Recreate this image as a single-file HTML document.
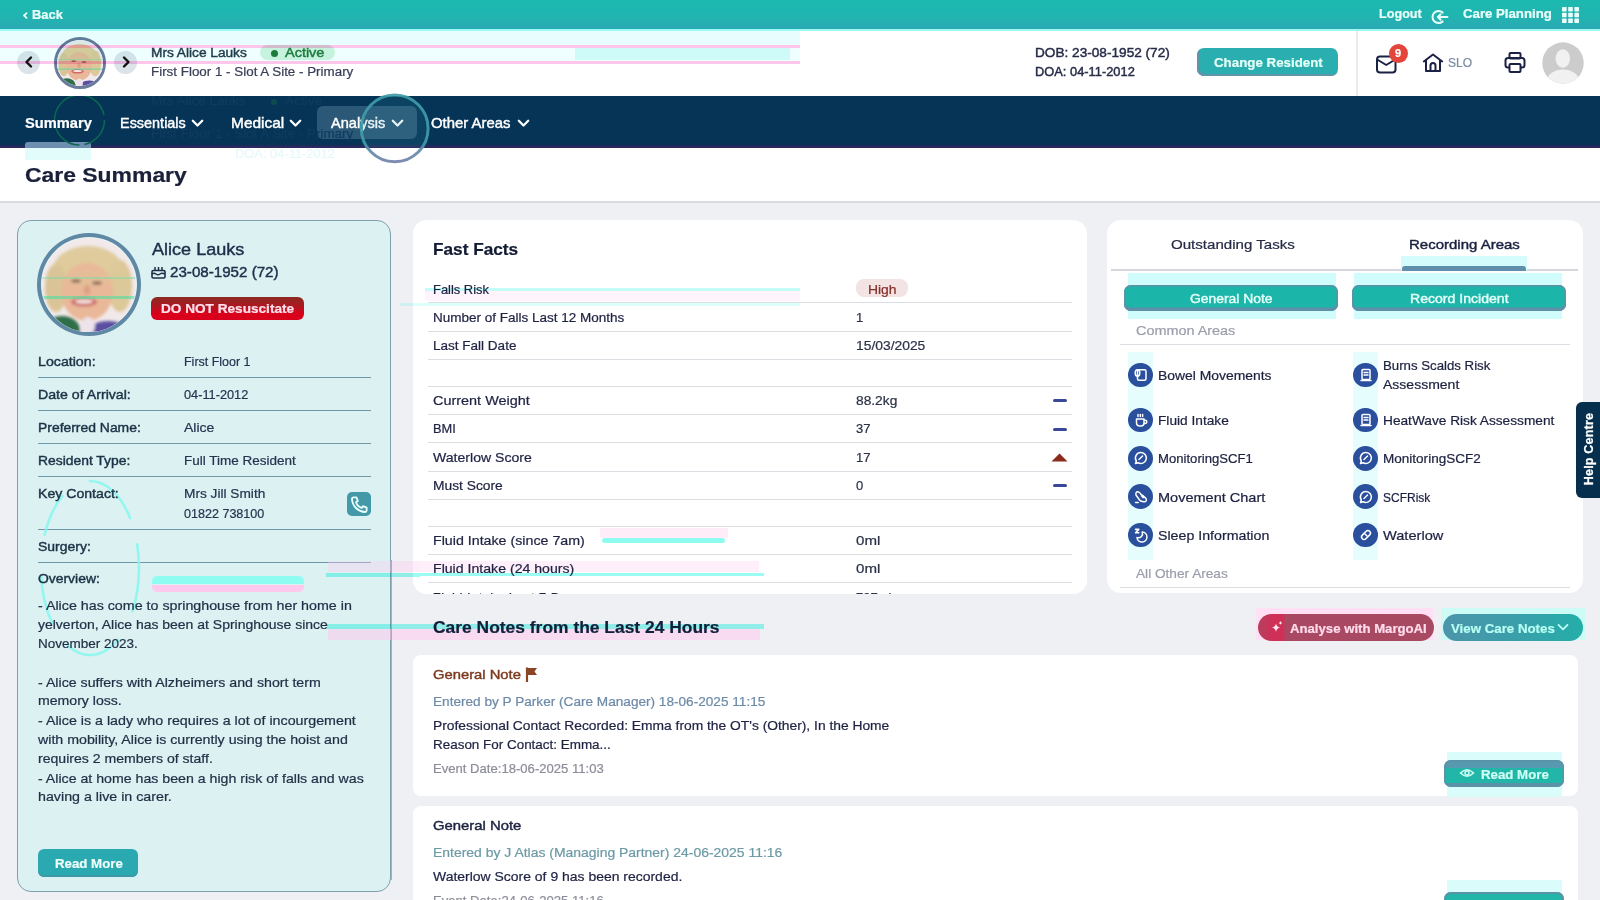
<!DOCTYPE html>
<html><head><meta charset="utf-8">
<style>
*{box-sizing:border-box;margin:0;padding:0}
html,body{width:1600px;height:900px;overflow:hidden;background:#eff0f4;font-family:"Liberation Sans",sans-serif;color:#1d2340;position:relative}
.abs{position:absolute}
.t{position:absolute;white-space:nowrap;z-index:3;-webkit-text-stroke-width:0.22px}
.gh{position:absolute;z-index:2;mix-blend-mode:multiply}
svg{position:absolute;overflow:visible}
</style></head><body>
<div class="abs" style="left:0px;top:0px;width:1600px;height:29px;background:linear-gradient(#1cb9b0,#20b5b0 55%,#2aa9b4)"></div>
<div class="abs" style="left:0px;top:29px;width:1600px;height:2px;background:#9ef8f2"></div>
<svg style="left:21.5px;top:11.5px" width="7" height="7" viewBox="0 0 7 7"><path d="M4.6 1.1 L2 3.5 L4.6 5.9" stroke="#eafffb" stroke-width="1.8" fill="none" stroke-linecap="round" stroke-linejoin="round"/></svg>
<div class="t" id="t0" style="left:32.00px;top:8.74px;font-size:12px;line-height:12px;color:#eafffb;font-weight:bold;transform:scaleX(1.0736);transform-origin:0 0;">Back</div>
<div class="t" id="t1" style="left:1379.30px;top:8.12px;font-size:12.5px;line-height:12.5px;color:#eafffb;font-weight:bold;transform:scaleX(1.0108);transform-origin:0 0;">Logout</div>
<svg style="left:1431px;top:9.6px" width="18" height="14" viewBox="0 0 18 14"><path d="M11.6 2.6 A6 6 0 1 0 11.6 11.4" stroke="#eafffb" stroke-width="2" fill="none" stroke-linecap="round"/><path d="M16.4 7 H6.8 M9.6 4.2 L6.8 7 L9.6 9.8" stroke="#eafffb" stroke-width="2" fill="none" stroke-linecap="round" stroke-linejoin="round"/></svg>
<div class="t" id="t2" style="left:1463.40px;top:8.12px;font-size:12.5px;line-height:12.5px;color:#eafffb;font-weight:bold;transform:scaleX(1.0565);transform-origin:0 0;">Care Planning</div>
<svg style="left:1562px;top:6.8px" width="18" height="17" viewBox="0 0 18 17"><rect x="0.0" y="0.0" width="4.6" height="4.4" rx="0.6" fill="#eafffb"/><rect x="6.2" y="0.0" width="4.6" height="4.4" rx="0.6" fill="#eafffb"/><rect x="12.4" y="0.0" width="4.6" height="4.4" rx="0.6" fill="#eafffb"/><rect x="0.0" y="5.8" width="4.6" height="4.4" rx="0.6" fill="#eafffb"/><rect x="6.2" y="5.8" width="4.6" height="4.4" rx="0.6" fill="#eafffb"/><rect x="12.4" y="5.8" width="4.6" height="4.4" rx="0.6" fill="#eafffb"/><rect x="0.0" y="11.6" width="4.6" height="4.4" rx="0.6" fill="#eafffb"/><rect x="6.2" y="11.6" width="4.6" height="4.4" rx="0.6" fill="#eafffb"/><rect x="12.4" y="11.6" width="4.6" height="4.4" rx="0.6" fill="#eafffb"/></svg>
<div class="abs" style="left:0px;top:31px;width:1600px;height:65px;background:#fff"></div>
<div class="abs" style="left:1356px;top:31px;width:2px;height:65px;background:#e9ebef"></div>
<div class="abs" style="left:17px;top:51px;width:23px;height:23px;background:#dde4e9;border-radius:50%"></div>
<svg style="left:24px;top:56px" width="10" height="12" viewBox="0 0 10 12"><path d="M7 1.5 L2.5 6 L7 10.5" stroke="#111" stroke-width="2.4" fill="none" stroke-linecap="round" stroke-linejoin="round"/></svg>
<div class="abs" style="left:114px;top:51px;width:23px;height:23px;background:#dde4e9;border-radius:50%"></div>
<svg style="left:121px;top:56px" width="10" height="12" viewBox="0 0 10 12"><path d="M3 1.5 L7.5 6 L3 10.5" stroke="#111" stroke-width="2.4" fill="none" stroke-linecap="round" stroke-linejoin="round"/></svg>
<div class="abs" style="left:53.5px;top:37px;width:52.0px;height:52px;border:3px solid #6a7c9c;border-radius:50%;background:#fff"></div>
<svg style="left:56.5px;top:40px" width="46" height="46" viewBox="0 0 94 94"><defs><clipPath id="pca"><circle cx="47" cy="47" r="47"/></clipPath><filter id="pfa" x="-20%" y="-20%" width="140%" height="140%"><feGaussianBlur stdDeviation="1.6"/></filter></defs><g clip-path="url(#pca)"><rect width="94" height="94" fill="#f1e9ea"/><g filter="url(#pfa)"><ellipse cx="46" cy="34" rx="36" ry="26" fill="#dfcb9c"/><ellipse cx="14" cy="50" rx="11" ry="24" fill="#dac497"/><ellipse cx="78" cy="48" rx="12" ry="26" fill="#ddc89a"/><ellipse cx="45" cy="54" rx="26" ry="29" fill="#e9b898"/><ellipse cx="46" cy="40" rx="22" ry="8" fill="#e4bd98"/><ellipse cx="34" cy="43" rx="5" ry="1.8" fill="#8a6a5a"/><ellipse cx="55" cy="45" rx="5" ry="1.8" fill="#8a6a5a"/><ellipse cx="45" cy="52" rx="3.5" ry="5" fill="#dba184"/><ellipse cx="42" cy="64" rx="13" ry="4.5" fill="#cf6a6a"/><ellipse cx="42" cy="63.5" rx="9" ry="2" fill="#f4e6e0"/><ellipse cx="20" cy="92" rx="18" ry="14" fill="#2f6e4a"/><ellipse cx="66" cy="96" rx="22" ry="13" fill="#5a4fa0"/><ellipse cx="46" cy="88" rx="7" ry="9" fill="#ece4ea"/></g><rect x="0" y="39" width="94" height="2" fill="#6fe0a8" opacity="0.45"/><rect x="0" y="58" width="94" height="3" fill="#40e0a0" opacity="0.55"/></g></svg>
<div class="t" id="t3" style="left:151.00px;top:46.72px;font-size:12.5px;line-height:12.5px;color:#1e3a4a;-webkit-text-stroke-width:0.42px;transform:scaleX(1.0945);transform-origin:0 0;">Mrs Alice Lauks</div>
<div class="abs" style="left:259.7px;top:44.6px;width:75.60000000000002px;height:15.799999999999997px;background:#d3f4de;border-radius:8px"></div>
<div class="abs" style="left:270.5px;top:49.5px;width:7.0px;height:7.0px;background:#1d7a3c;border-radius:50%"></div>
<div class="t" id="t4" style="left:285.00px;top:46.72px;font-size:12.5px;line-height:12.5px;color:#1f7a3d;-webkit-text-stroke-width:0.42px;transform:scaleX(1.1572);transform-origin:0 0;">Active</div>
<div class="t" id="t5" style="left:151.00px;top:65.72px;font-size:12.5px;line-height:12.5px;color:#3a3f58;transform:scaleX(1.0707);transform-origin:0 0;">First Floor 1 - Slot A Site - Primary</div>
<div class="t" id="t6" style="left:1035.00px;top:46.62px;font-size:12.5px;line-height:12.5px;color:#262b48;-webkit-text-stroke-width:0.42px;transform:scaleX(1.0899);transform-origin:0 0;">DOB: 23-08-1952 (72)</div>
<div class="t" id="t7" style="left:1035.00px;top:65.62px;font-size:12.5px;line-height:12.5px;color:#262b48;-webkit-text-stroke-width:0.42px;transform:scaleX(1.0284);transform-origin:0 0;">DOA: 04-11-2012</div>
<div class="abs" style="left:1197px;top:48px;width:141px;height:28.299999999999997px;background:#2aaeb0;border-radius:7px;box-shadow:inset 2px -2px 0 #5f94ab"></div>
<div class="t" id="t8" style="left:1213.80px;top:56.07px;font-size:13.5px;line-height:13.5px;color:#e4fff6;font-weight:bold;transform:scaleX(0.9866);transform-origin:0 0;">Change Resident</div>
<svg style="left:1375px;top:55px" width="23" height="19" viewBox="0 0 23 19"><rect x="2" y="1.5" width="18.5" height="16" rx="3" stroke="#1b2145" stroke-width="2" fill="none"/><path d="M3 5 L11.2 10 L19.5 5" stroke="#1b2145" stroke-width="2" fill="none" stroke-linecap="round" stroke-linejoin="round"/></svg>
<div class="abs" style="left:1388.9px;top:43.5px;width:19.0px;height:19.0px;background:#e2453b;border-radius:50%"></div>
<div class="t" id="t9" style="left:1394.90px;top:47.99px;font-size:11px;line-height:11px;color:#fff;font-weight:bold;">9</div>
<svg style="left:1422px;top:53px" width="22" height="20" viewBox="0 0 22 20"><path d="M1.8 8.5 L11 1.5 L20.2 8.5" stroke="#1b2145" stroke-width="2" fill="none" stroke-linecap="round" stroke-linejoin="round"/><path d="M4 7 V18 H18 V7" stroke="#1b2145" stroke-width="2" fill="none" stroke-linejoin="round"/><path d="M8.5 18 V12.5 A2.5 2.5 0 0 1 13.5 12.5 V18" stroke="#1b2145" stroke-width="2" fill="none"/></svg>
<div class="t" id="t10" style="left:1447.50px;top:56.74px;font-size:12px;line-height:12px;color:#7d8ba3;transform:scaleX(1.0035);transform-origin:0 0;">SLO</div>
<svg style="left:1504px;top:52px" width="22" height="21" viewBox="0 0 22 21"><rect x="5.5" y="1" width="11" height="5.5" rx="1" stroke="#1b2145" stroke-width="2" fill="none"/><rect x="1.5" y="6" width="19" height="9.5" rx="2.5" stroke="#1b2145" stroke-width="2" fill="none"/><rect x="5.5" y="12" width="11" height="8" rx="1" stroke="#1b2145" stroke-width="2" fill="#fff"/></svg>
<svg style="left:1541.9px;top:41.6px" width="42" height="42" viewBox="0 0 42 42"><defs><clipPath id="ca"><circle cx="21" cy="21" r="20.7"/></clipPath></defs><circle cx="21" cy="21" r="20.7" fill="#cccccc"/><g clip-path="url(#ca)"><ellipse cx="20.8" cy="16.5" rx="7.2" ry="9.3" fill="#f1f1f1"/><ellipse cx="21" cy="39" rx="16" ry="11.5" fill="#f1f1f1"/></g></svg>
<div class="abs" style="left:0px;top:96px;width:1600px;height:51.599999999999994px;background:linear-gradient(#053457 0%,#053457 93%,#26295e 96%,#2a2a60 100%)"></div>
<div class="t" id="t11" style="left:25.00px;top:115.73px;font-size:14.5px;line-height:14.5px;color:#ffffff;font-weight:bold;transform:scaleX(1.0106);transform-origin:0 0;">Summary</div>
<div class="abs" style="left:25px;top:142.2px;width:66px;height:5.800000000000011px;background:#6f8fb0;border-radius:3px 3px 0 0"></div>
<div class="t" id="t12" style="left:119.50px;top:115.73px;font-size:14.5px;line-height:14.5px;color:#ffffff;-webkit-text-stroke-width:0.42px;transform:scaleX(0.9955);transform-origin:0 0;">Essentials</div>
<svg style="left:191px;top:118.5px" width="13" height="9" viewBox="0 0 13 9"><path d="M1.8 1.8 L6.5 6.5 L11.2 1.8" stroke="#fff" stroke-width="2.3" fill="none" stroke-linecap="round" stroke-linejoin="round"/></svg>
<div class="t" id="t13" style="left:231.30px;top:115.73px;font-size:14.5px;line-height:14.5px;color:#ffffff;-webkit-text-stroke-width:0.42px;transform:scaleX(1.0667);transform-origin:0 0;">Medical</div>
<svg style="left:289px;top:118.5px" width="13" height="9" viewBox="0 0 13 9"><path d="M1.8 1.8 L6.5 6.5 L11.2 1.8" stroke="#fff" stroke-width="2.3" fill="none" stroke-linecap="round" stroke-linejoin="round"/></svg>
<div class="abs" style="left:317px;top:106px;width:99.69999999999999px;height:33px;background:#2c5877;border-radius:6px"></div>
<div class="t" id="t14" style="left:331.00px;top:115.73px;font-size:14.5px;line-height:14.5px;color:#ffffff;-webkit-text-stroke-width:0.42px;transform:scaleX(1.0037);transform-origin:0 0;">Analysis</div>
<svg style="left:391px;top:118.5px" width="13" height="9" viewBox="0 0 13 9"><path d="M1.8 1.8 L6.5 6.5 L11.2 1.8" stroke="#fff" stroke-width="2.3" fill="none" stroke-linecap="round" stroke-linejoin="round"/></svg>
<div class="t" id="t15" style="left:431.30px;top:115.73px;font-size:14.5px;line-height:14.5px;color:#ffffff;-webkit-text-stroke-width:0.42px;transform:scaleX(1.0275);transform-origin:0 0;">Other Areas</div>
<svg style="left:517px;top:118.5px" width="13" height="9" viewBox="0 0 13 9"><path d="M1.8 1.8 L6.5 6.5 L11.2 1.8" stroke="#fff" stroke-width="2.3" fill="none" stroke-linecap="round" stroke-linejoin="round"/></svg>
<div class="abs" style="left:0px;top:147.6px;width:1600px;height:53.400000000000006px;background:#fff"></div>
<div class="abs" style="left:0px;top:201px;width:1600px;height:1.5px;background:#d9dadf"></div>
<div class="t" id="t16" style="left:25.00px;top:163.92px;font-size:21px;line-height:21px;color:#1a1f3a;font-weight:bold;transform:scaleX(1.0914);transform-origin:0 0;">Care Summary</div>
<svg style="left:355px;top:88px;z-index:4" width="80" height="80" viewBox="0 0 80 80"><defs><linearGradient id="cg" x1="0" y1="0" x2="0" y2="1"><stop offset="0" stop-color="#3f9ca8"/><stop offset="0.72" stop-color="#3f9ca8"/><stop offset="0.8" stop-color="#5a8cab"/><stop offset="1" stop-color="#7482aa"/></linearGradient><clipPath id="navc"><rect x="0" y="8" width="80" height="51.6"/></clipPath></defs><circle cx="39.7" cy="40.4" r="33" fill="#3aa0b0" fill-opacity="0.13" clip-path="url(#navc)"/><circle cx="39.7" cy="40.4" r="33.4" stroke="url(#cg)" stroke-opacity="0.92" stroke-width="3" fill="none"/></svg>
<div class="abs" style="left:16.7px;top:219.5px;width:374.8px;height:672.1px;background:#dcf1f2;border:1px solid #809fae;border-radius:14px"></div>
<div class="abs" style="left:37.2px;top:233.2px;width:104.2px;height:103.19999999999999px;border:4px solid #5f88a5;border-radius:50%;background:#e8f4f4"></div>
<svg style="left:42.3px;top:237.8px" width="94" height="94" viewBox="0 0 94 94"><defs><clipPath id="pcb"><circle cx="47" cy="47" r="47"/></clipPath><filter id="pfb" x="-20%" y="-20%" width="140%" height="140%"><feGaussianBlur stdDeviation="1.6"/></filter></defs><g clip-path="url(#pcb)"><rect width="94" height="94" fill="#f1e9ea"/><g filter="url(#pfb)"><ellipse cx="46" cy="34" rx="36" ry="26" fill="#dfcb9c"/><ellipse cx="14" cy="50" rx="11" ry="24" fill="#dac497"/><ellipse cx="78" cy="48" rx="12" ry="26" fill="#ddc89a"/><ellipse cx="45" cy="54" rx="26" ry="29" fill="#e9b898"/><ellipse cx="46" cy="40" rx="22" ry="8" fill="#e4bd98"/><ellipse cx="34" cy="43" rx="5" ry="1.8" fill="#8a6a5a"/><ellipse cx="55" cy="45" rx="5" ry="1.8" fill="#8a6a5a"/><ellipse cx="45" cy="52" rx="3.5" ry="5" fill="#dba184"/><ellipse cx="42" cy="64" rx="13" ry="4.5" fill="#cf6a6a"/><ellipse cx="42" cy="63.5" rx="9" ry="2" fill="#f4e6e0"/><ellipse cx="20" cy="92" rx="18" ry="14" fill="#2f6e4a"/><ellipse cx="66" cy="96" rx="22" ry="13" fill="#5a4fa0"/><ellipse cx="46" cy="88" rx="7" ry="9" fill="#ece4ea"/></g><rect x="0" y="39" width="94" height="2" fill="#6fe0a8" opacity="0.45"/><rect x="0" y="58" width="94" height="3" fill="#40e0a0" opacity="0.55"/></g></svg>
<div class="t" id="t17" style="left:152.30px;top:241.41px;font-size:17px;line-height:17px;color:#1c2f4a;-webkit-text-stroke-width:0.42px;transform:scaleX(1.0617);transform-origin:0 0;">Alice Lauks</div>
<svg style="left:151px;top:265px" width="15" height="14" viewBox="0 0 15 14"><rect x="1" y="5.5" width="13" height="7.5" rx="1.2" stroke="#1c2f4a" stroke-width="1.6" fill="none"/><path d="M1 9 Q3 7.5 5 9 T9 9 T14 9" stroke="#1c2f4a" stroke-width="1.4" fill="none"/><path d="M4 5.5 V2 M7.5 5.5 V2 M11 5.5 V2" stroke="#1c2f4a" stroke-width="1.5"/></svg>
<div class="t" id="t18" style="left:170.40px;top:265.23px;font-size:14.5px;line-height:14.5px;color:#1c2f4a;-webkit-text-stroke-width:0.42px;transform:scaleX(1.0442);transform-origin:0 0;">23-08-1952 (72)</div>
<div class="abs" style="left:151.4px;top:296.6px;width:152.20000000000002px;height:23.5px;background:linear-gradient(#8c2a22 0%,#a81a20 35%,#d8001a 70%,#d9001c 100%);border-radius:6px"></div>
<div class="t" id="t19" style="left:161.30px;top:301.77px;font-size:13.5px;line-height:13.5px;color:#ffe0ec;font-weight:bold;transform:scaleX(1.0080);transform-origin:0 0;">DO NOT Resuscitate</div>
<div class="t" id="t20" style="left:37.70px;top:354.60px;font-size:13px;line-height:13px;color:#1b3346;-webkit-text-stroke-width:0.42px;transform:scaleX(1.0916);transform-origin:0 0;">Location:</div>
<div class="t" id="t21" style="left:184.30px;top:354.60px;font-size:13px;line-height:13px;color:#243550;transform:scaleX(0.9590);transform-origin:0 0;">First Floor 1</div>
<div class="abs" style="left:37.6px;top:377px;width:333.4px;height:1px;background:#6f98a9"></div>
<div class="t" id="t22" style="left:37.70px;top:387.60px;font-size:13px;line-height:13px;color:#1b3346;-webkit-text-stroke-width:0.42px;transform:scaleX(1.0884);transform-origin:0 0;">Date of Arrival:</div>
<div class="t" id="t23" style="left:184.30px;top:387.60px;font-size:13px;line-height:13px;color:#243550;transform:scaleX(0.9810);transform-origin:0 0;">04-11-2012</div>
<div class="abs" style="left:37.6px;top:410px;width:333.4px;height:1px;background:#6f98a9"></div>
<div class="t" id="t24" style="left:37.70px;top:421.00px;font-size:13px;line-height:13px;color:#1b3346;-webkit-text-stroke-width:0.42px;transform:scaleX(1.0698);transform-origin:0 0;">Preferred Name:</div>
<div class="t" id="t25" style="left:184.30px;top:421.00px;font-size:13px;line-height:13px;color:#243550;transform:scaleX(1.0750);transform-origin:0 0;">Alice</div>
<div class="abs" style="left:37.6px;top:443px;width:333.4px;height:1px;background:#6f98a9"></div>
<div class="t" id="t26" style="left:37.70px;top:454.30px;font-size:13px;line-height:13px;color:#1b3346;-webkit-text-stroke-width:0.42px;transform:scaleX(1.0673);transform-origin:0 0;">Resident Type:</div>
<div class="t" id="t27" style="left:184.30px;top:454.30px;font-size:13px;line-height:13px;color:#243550;transform:scaleX(1.0385);transform-origin:0 0;">Full Time Resident</div>
<div class="abs" style="left:37.6px;top:476px;width:333.4px;height:1px;background:#6f98a9"></div>
<div class="t" id="t28" style="left:37.70px;top:487.00px;font-size:13px;line-height:13px;color:#1b3346;-webkit-text-stroke-width:0.42px;transform:scaleX(1.0855);transform-origin:0 0;">Key Contact:</div>
<div class="t" id="t29" style="left:184.30px;top:487.00px;font-size:13px;line-height:13px;color:#243550;transform:scaleX(1.0520);transform-origin:0 0;">Mrs Jill Smith</div>
<div class="t" id="t30" style="left:184.30px;top:506.50px;font-size:13px;line-height:13px;color:#243550;transform:scaleX(0.9656);transform-origin:0 0;">01822 738100</div>
<div class="abs" style="left:37.6px;top:529px;width:333.4px;height:1px;background:#6f98a9"></div>
<div class="abs" style="left:347.2px;top:492px;width:23.600000000000023px;height:23.5px;background:#4399a7;border-radius:5px"></div>
<svg style="left:349.5px;top:494.5px" width="19" height="19" viewBox="0 0 24 24"><path d="M4.5 3 h3.6 l1.8 4.6 -2.3 1.6 a11.5 11.5 0 0 0 7.2 7.2 l1.6 -2.3 4.6 1.8 V19.5 a2 2 0 0 1 -2 2 A17.5 17.5 0 0 1 2.5 5 a2 2 0 0 1 2 -2z" stroke="#eafffb" stroke-width="2.3" fill="none" stroke-linejoin="round"/></svg>
<div class="t" id="t31" style="left:37.70px;top:539.80px;font-size:13px;line-height:13px;color:#1b3346;-webkit-text-stroke-width:0.42px;transform:scaleX(1.0745);transform-origin:0 0;">Surgery:</div>
<div class="abs" style="left:37.6px;top:562px;width:333.4px;height:1px;background:#6f98a9"></div>
<div class="t" id="t32" style="left:37.70px;top:572.40px;font-size:13px;line-height:13px;color:#1b3346;-webkit-text-stroke-width:0.42px;transform:scaleX(1.0692);transform-origin:0 0;">Overview:</div>
<div class="t" id="t33" style="left:37.70px;top:599.20px;font-size:13px;line-height:13px;color:#1f2f45;transform:scaleX(1.0967);transform-origin:0 0;">- Alice has come to springhouse from her home in</div>
<div class="t" id="t34" style="left:37.70px;top:618.10px;font-size:13px;line-height:13px;color:#1f2f45;transform:scaleX(1.0751);transform-origin:0 0;">yelverton, Alice has been at Springhouse since</div>
<div class="t" id="t35" style="left:37.70px;top:636.60px;font-size:13px;line-height:13px;color:#1f2f45;transform:scaleX(1.0382);transform-origin:0 0;">November 2023.</div>
<div class="t" id="t36" style="left:37.70px;top:675.50px;font-size:13px;line-height:13px;color:#1f2f45;transform:scaleX(1.0913);transform-origin:0 0;">- Alice suffers with Alzheimers and short term</div>
<div class="t" id="t37" style="left:37.70px;top:694.40px;font-size:13px;line-height:13px;color:#1f2f45;transform:scaleX(1.0841);transform-origin:0 0;">memory loss.</div>
<div class="t" id="t38" style="left:37.70px;top:714.00px;font-size:13px;line-height:13px;color:#1f2f45;transform:scaleX(1.0968);transform-origin:0 0;">- Alice is a lady who requires a lot of incourgement</div>
<div class="t" id="t39" style="left:37.70px;top:733.00px;font-size:13px;line-height:13px;color:#1f2f45;transform:scaleX(1.0919);transform-origin:0 0;">with mobility, Alice is currently using the hoist and</div>
<div class="t" id="t40" style="left:37.70px;top:751.80px;font-size:13px;line-height:13px;color:#1f2f45;transform:scaleX(1.0816);transform-origin:0 0;">requires 2 members of staff.</div>
<div class="t" id="t41" style="left:37.70px;top:771.50px;font-size:13px;line-height:13px;color:#1f2f45;transform:scaleX(1.0890);transform-origin:0 0;">- Alice at home has been a high risk of falls and was</div>
<div class="t" id="t42" style="left:37.70px;top:790.40px;font-size:13px;line-height:13px;color:#1f2f45;transform:scaleX(1.0956);transform-origin:0 0;">having a live in carer.</div>
<div class="abs" style="left:37.8px;top:849px;width:100.10000000000001px;height:27.5px;background:#2aa9b0;border-radius:6px;box-shadow:inset 0 -2px 0 #3c9aa6"></div>
<div class="t" id="t43" style="left:54.50px;top:856.50px;font-size:13px;line-height:13px;color:#eefffb;font-weight:bold;transform:scaleX(1.0200);transform-origin:0 0;">Read More</div>
<div class="abs" style="left:413px;top:220px;width:674px;height:373.75px;background:#fff;border-radius:14px"></div>
<div class="t" id="t44" style="left:432.80px;top:240.61px;font-size:17px;line-height:17px;color:#111a33;font-weight:bold;transform:scaleX(1.0131);transform-origin:0 0;">Fast Facts</div>
<div class="t" id="t45" style="left:432.80px;top:282.50px;font-size:13px;line-height:13px;color:#1f2243;transform:scaleX(0.9939);transform-origin:0 0;">Falls Risk</div>
<div class="abs" style="left:428px;top:302px;width:644px;height:1px;background:#dcdde2"></div>
<div class="t" id="t46" style="left:432.80px;top:311.00px;font-size:13px;line-height:13px;color:#1f2243;transform:scaleX(1.0383);transform-origin:0 0;">Number of Falls Last 12 Months</div>
<div class="t" id="t47" style="left:856.00px;top:311.00px;font-size:13px;line-height:13px;color:#2c3248;">1</div>
<div class="abs" style="left:428px;top:331px;width:644px;height:1px;background:#dcdde2"></div>
<div class="t" id="t48" style="left:432.80px;top:339.30px;font-size:13px;line-height:13px;color:#1f2243;transform:scaleX(1.0399);transform-origin:0 0;">Last Fall Date</div>
<div class="t" id="t49" style="left:856.00px;top:339.30px;font-size:13px;line-height:13px;color:#2c3248;transform:scaleX(1.0649);transform-origin:0 0;">15/03/2025</div>
<div class="abs" style="left:428px;top:359px;width:644px;height:1px;background:#dcdde2"></div>
<div class="abs" style="left:428px;top:386px;width:644px;height:1px;background:#dcdde2"></div>
<div class="t" id="t50" style="left:432.80px;top:394.00px;font-size:13px;line-height:13px;color:#1f2243;transform:scaleX(1.1102);transform-origin:0 0;">Current Weight</div>
<div class="t" id="t51" style="left:856.00px;top:394.00px;font-size:13px;line-height:13px;color:#2c3248;transform:scaleX(1.0577);transform-origin:0 0;">88.2kg</div>
<div class="abs" style="left:428px;top:414px;width:644px;height:1px;background:#dcdde2"></div>
<div class="abs" style="left:1053px;top:399.4px;width:13.5px;height:3.0px;background:#3a4898;border-radius:1.5px"></div>
<div class="t" id="t52" style="left:432.80px;top:422.25px;font-size:13px;line-height:13px;color:#1f2243;transform:scaleX(0.9860);transform-origin:0 0;">BMI</div>
<div class="t" id="t53" style="left:856.00px;top:422.25px;font-size:13px;line-height:13px;color:#2c3248;">37</div>
<div class="abs" style="left:428px;top:442px;width:644px;height:1px;background:#dcdde2"></div>
<div class="abs" style="left:1053px;top:427.65px;width:13.5px;height:3.0px;background:#3a4898;border-radius:1.5px"></div>
<div class="t" id="t54" style="left:432.80px;top:451.00px;font-size:13px;line-height:13px;color:#1f2243;transform:scaleX(1.0824);transform-origin:0 0;">Waterlow Score</div>
<div class="t" id="t55" style="left:856.00px;top:451.00px;font-size:13px;line-height:13px;color:#2c3248;">17</div>
<div class="abs" style="left:428px;top:471px;width:644px;height:1px;background:#dcdde2"></div>
<svg style="left:1051px;top:453px" width="17" height="9" viewBox="0 0 17 9"><path d="M8.5 0.5 L16.5 8.6 H0.5 Z" fill="#8a2b1c"/></svg>
<div class="t" id="t56" style="left:432.80px;top:479.00px;font-size:13px;line-height:13px;color:#1f2243;transform:scaleX(1.0616);transform-origin:0 0;">Must Score</div>
<div class="t" id="t57" style="left:856.00px;top:479.00px;font-size:13px;line-height:13px;color:#2c3248;">0</div>
<div class="abs" style="left:428px;top:499px;width:644px;height:1px;background:#dcdde2"></div>
<div class="abs" style="left:1053px;top:484.4px;width:13.5px;height:3.0px;background:#3a4898;border-radius:1.5px"></div>
<div class="abs" style="left:428px;top:526px;width:644px;height:1px;background:#dcdde2"></div>
<div class="t" id="t58" style="left:432.80px;top:534.00px;font-size:13px;line-height:13px;color:#1f2243;transform:scaleX(1.0942);transform-origin:0 0;">Fluid Intake (since 7am)</div>
<div class="t" id="t59" style="left:856.00px;top:534.00px;font-size:13px;line-height:13px;color:#2c3248;transform:scaleX(1.1597);transform-origin:0 0;">0ml</div>
<div class="abs" style="left:428px;top:554px;width:644px;height:1px;background:#dcdde2"></div>
<div class="t" id="t60" style="left:432.80px;top:562.00px;font-size:13px;line-height:13px;color:#1f2243;transform:scaleX(1.0863);transform-origin:0 0;">Fluid Intake (24 hours)</div>
<div class="t" id="t61" style="left:856.00px;top:562.00px;font-size:13px;line-height:13px;color:#2c3248;transform:scaleX(1.1597);transform-origin:0 0;">0ml</div>
<div class="abs" style="left:428px;top:582px;width:644px;height:1px;background:#dcdde2"></div>
<div class="abs" style="left:856px;top:278.9px;width:51.799999999999955px;height:17.80000000000001px;background:#f3e3e3;border-radius:8px"></div>
<div class="t" id="t62" style="left:867.80px;top:282.50px;font-size:13px;line-height:13px;color:#85302a;transform:scaleX(1.0691);transform-origin:0 0;">High</div>
<div class="abs" style="left:413px;top:586px;width:674px;height:7.75px;overflow:hidden"><div class="t" style="left:19.8px;top:4.5px;font-size:13px;line-height:13px;color:#20263f;letter-spacing:0.4px">Fluid Intake Last 7 Days</div><div class="t" style="left:443px;top:4.5px;font-size:13px;line-height:13px;color:#2c3248">797ml</div></div>
<div class="abs" style="left:1107px;top:220px;width:476px;height:373px;background:#fff;border-radius:14px"></div>
<div class="t" id="t63" style="left:1170.70px;top:237.57px;font-size:13.5px;line-height:13.5px;color:#262b45;transform:scaleX(1.1171);transform-origin:0 0;">Outstanding Tasks</div>
<div class="t" id="t64" style="left:1408.80px;top:237.57px;font-size:13.5px;line-height:13.5px;color:#1a2040;-webkit-text-stroke-width:0.42px;transform:scaleX(1.1101);transform-origin:0 0;">Recording Areas</div>
<div class="abs" style="left:1110.7px;top:269.4px;width:467.29999999999995px;height:2.0px;background:#d5d7dc"></div>
<div class="abs" style="left:1401px;top:256px;width:126px;height:15px;background:#d4fcfc"></div>
<div class="abs" style="left:1401.6px;top:266px;width:124.0px;height:5.399999999999977px;background:#5f8fab;border-radius:3px 3px 0 0"></div>
<div class="abs" style="left:1128px;top:272.7px;width:207.5999999999999px;height:46.80000000000001px;background:#d0fcfc"></div>
<div class="abs" style="left:1354px;top:272.7px;width:208px;height:46.80000000000001px;background:#d0fcfc"></div>
<div class="abs" style="left:1128px;top:352px;width:25px;height:208px;background:#e6fdfd"></div>
<div class="abs" style="left:1353px;top:352px;width:25px;height:208px;background:#e6fdfd"></div>
<div class="abs" style="left:1124.2px;top:285px;width:213.70000000000005px;height:25.5px;background:#1bb6a9;border-radius:7px;box-shadow:inset 0 0 0 1.5px #5f90a8,inset 0 -3.5px 0 #5f90a8"></div>
<div class="t" id="t65" style="left:1190.20px;top:291.70px;font-size:13px;line-height:13px;color:#e4fff8;-webkit-text-stroke-width:0.42px;transform:scaleX(1.0669);transform-origin:0 0;">General Note</div>
<div class="abs" style="left:1351.6px;top:285px;width:214.0px;height:25.5px;background:#1bb6a9;border-radius:7px;box-shadow:inset 0 0 0 1.5px #5f90a8,inset 0 -3.5px 0 #5f90a8"></div>
<div class="t" id="t66" style="left:1410.00px;top:291.70px;font-size:13px;line-height:13px;color:#e4fff8;-webkit-text-stroke-width:0.42px;transform:scaleX(1.0828);transform-origin:0 0;">Record Incident</div>
<div class="t" id="t67" style="left:1135.50px;top:324.20px;font-size:13px;line-height:13px;color:#9b9eab;transform:scaleX(1.1083);transform-origin:0 0;">Common Areas</div>
<div class="abs" style="left:1119.7px;top:344px;width:450.0px;height:1.1999999999999886px;background:#dcdde2"></div>
<div class="abs" style="left:1128.3999999999999px;top:362.6px;width:24.800000000000182px;height:24.799999999999955px;background:#2a4f9c;border-radius:50%"></div>
<div class="t" id="t68" style="left:1158.40px;top:369.10px;font-size:13px;line-height:13px;color:#1d2140;transform:scaleX(1.0686);transform-origin:0 0;">Bowel Movements</div>
<div class="abs" style="left:1128.3999999999999px;top:407.5px;width:24.800000000000182px;height:24.799999999999955px;background:#2a4f9c;border-radius:50%"></div>
<div class="t" id="t69" style="left:1158.40px;top:414.00px;font-size:13px;line-height:13px;color:#1d2140;transform:scaleX(1.0535);transform-origin:0 0;">Fluid Intake</div>
<div class="abs" style="left:1128.3999999999999px;top:445.90000000000003px;width:24.800000000000182px;height:24.799999999999955px;background:#2a4f9c;border-radius:50%"></div>
<div class="t" id="t70" style="left:1158.40px;top:452.40px;font-size:13px;line-height:13px;color:#1d2140;transform:scaleX(1.0092);transform-origin:0 0;">MonitoringSCF1</div>
<div class="abs" style="left:1128.3999999999999px;top:484.20000000000005px;width:24.800000000000182px;height:24.799999999999955px;background:#2a4f9c;border-radius:50%"></div>
<div class="t" id="t71" style="left:1158.40px;top:490.70px;font-size:13px;line-height:13px;color:#1d2140;transform:scaleX(1.1166);transform-origin:0 0;">Movement Chart</div>
<div class="abs" style="left:1128.3999999999999px;top:522.6px;width:24.800000000000182px;height:24.799999999999955px;background:#2a4f9c;border-radius:50%"></div>
<div class="t" id="t72" style="left:1158.40px;top:529.10px;font-size:13px;line-height:13px;color:#1d2140;transform:scaleX(1.0922);transform-origin:0 0;">Sleep Information</div>
<div class="abs" style="left:1353.1999999999998px;top:362.6px;width:24.800000000000182px;height:24.799999999999955px;background:#2a4f9c;border-radius:50%"></div>
<div class="abs" style="left:1353.1999999999998px;top:407.5px;width:24.800000000000182px;height:24.799999999999955px;background:#2a4f9c;border-radius:50%"></div>
<div class="t" id="t73" style="left:1383.20px;top:414.00px;font-size:13px;line-height:13px;color:#1d2140;transform:scaleX(1.0522);transform-origin:0 0;">HeatWave Risk Assessment</div>
<div class="abs" style="left:1353.1999999999998px;top:445.90000000000003px;width:24.800000000000182px;height:24.799999999999955px;background:#2a4f9c;border-radius:50%"></div>
<div class="t" id="t74" style="left:1383.20px;top:452.40px;font-size:13px;line-height:13px;color:#1d2140;transform:scaleX(1.0411);transform-origin:0 0;">MonitoringSCF2</div>
<div class="abs" style="left:1353.1999999999998px;top:484.20000000000005px;width:24.800000000000182px;height:24.799999999999955px;background:#2a4f9c;border-radius:50%"></div>
<div class="t" id="t75" style="left:1383.20px;top:490.70px;font-size:13px;line-height:13px;color:#1d2140;transform:scaleX(0.9224);transform-origin:0 0;">SCFRisk</div>
<div class="abs" style="left:1353.1999999999998px;top:522.6px;width:24.800000000000182px;height:24.799999999999955px;background:#2a4f9c;border-radius:50%"></div>
<div class="t" id="t76" style="left:1383.20px;top:529.10px;font-size:13px;line-height:13px;color:#1d2140;transform:scaleX(1.1229);transform-origin:0 0;">Waterlow</div>
<div class="t" id="t77" style="left:1383.40px;top:359.30px;font-size:13px;line-height:13px;color:#1d2140;transform:scaleX(1.0172);transform-origin:0 0;">Burns Scalds Risk</div>
<div class="t" id="t78" style="left:1383.40px;top:378.00px;font-size:13px;line-height:13px;color:#1d2140;transform:scaleX(1.0775);transform-origin:0 0;">Assessment</div>
<div class="t" id="t79" style="left:1135.60px;top:567.40px;font-size:13px;line-height:13px;color:#9b9eab;transform:scaleX(1.0499);transform-origin:0 0;">All Other Areas</div>
<div class="abs" style="left:1119.7px;top:587px;width:450.0px;height:1.2000000000000455px;background:#dcdde2"></div>
<svg style="left:1132.8px;top:367px" width="16" height="16" viewBox="0 0 16 16"><rect x="4.5" y="2.8" width="8.5" height="10.5" rx="1.5" stroke="#fff" stroke-width="1.5" fill="none" stroke-linecap="round" stroke-linejoin="round"/><ellipse cx="4.5" cy="6" rx="2.3" ry="3.2" stroke="#fff" stroke-width="1.5" fill="none" stroke-linecap="round" stroke-linejoin="round"/></svg>
<svg style="left:1357.6px;top:367px" width="16" height="16" viewBox="0 0 16 16"><rect x="4" y="2.5" width="8" height="10" rx="1" stroke="#fff" stroke-width="1.5" fill="none" stroke-linecap="round" stroke-linejoin="round"/><path d="M6 5.5h4M6 8h4M3 13.5h10" stroke="#fff" stroke-width="1.5" fill="none" stroke-linecap="round" stroke-linejoin="round"/></svg>
<svg style="left:1132.8px;top:411.9px" width="16" height="16" viewBox="0 0 16 16"><path d="M3.5 7h7.5v4a3 3 0 0 1-3 3h-1.5a3 3 0 0 1-3-3z M11 8.2h1.2a1.6 1.6 0 0 1 0 3.2H11" stroke="#fff" stroke-width="1.5" fill="none" stroke-linecap="round" stroke-linejoin="round"/><path d="M5 2.5v2M7.3 2.5v2M9.6 2.5v2" stroke="#fff" stroke-width="1.5" fill="none" stroke-linecap="round" stroke-linejoin="round"/></svg>
<svg style="left:1357.6px;top:411.9px" width="16" height="16" viewBox="0 0 16 16"><rect x="4" y="2.5" width="8" height="10" rx="1" stroke="#fff" stroke-width="1.5" fill="none" stroke-linecap="round" stroke-linejoin="round"/><path d="M6 5.5h4M6 8h4M3 13.5h10" stroke="#fff" stroke-width="1.5" fill="none" stroke-linecap="round" stroke-linejoin="round"/></svg>
<svg style="left:1132.8px;top:450.3px" width="16" height="16" viewBox="0 0 16 16"><path d="M8 2.5a5.5 5.5 0 1 1-3 10.2L2.5 13.5l.8-2.5A5.5 5.5 0 0 1 8 2.5z" stroke="#fff" stroke-width="1.5" fill="none" stroke-linecap="round" stroke-linejoin="round"/><path d="M6 9.5l3.5-3.5" stroke="#fff" stroke-width="1.5" fill="none" stroke-linecap="round" stroke-linejoin="round"/></svg>
<svg style="left:1357.6px;top:450.3px" width="16" height="16" viewBox="0 0 16 16"><path d="M8 2.5a5.5 5.5 0 1 1-3 10.2L2.5 13.5l.8-2.5A5.5 5.5 0 0 1 8 2.5z" stroke="#fff" stroke-width="1.5" fill="none" stroke-linecap="round" stroke-linejoin="round"/><path d="M6 9.5l3.5-3.5" stroke="#fff" stroke-width="1.5" fill="none" stroke-linecap="round" stroke-linejoin="round"/></svg>
<svg style="left:1357.6px;top:488.6px" width="16" height="16" viewBox="0 0 16 16"><path d="M8 2.5a5.5 5.5 0 1 1-3 10.2L2.5 13.5l.8-2.5A5.5 5.5 0 0 1 8 2.5z" stroke="#fff" stroke-width="1.5" fill="none" stroke-linecap="round" stroke-linejoin="round"/><path d="M6 9.5l3.5-3.5" stroke="#fff" stroke-width="1.5" fill="none" stroke-linecap="round" stroke-linejoin="round"/></svg>
<svg style="left:1132.8px;top:488.6px" width="16" height="16" viewBox="0 0 16 16"><path d="M3.2 3.6 Q4 2.3 5.6 3 L7 4 Q7.6 5.6 9.2 6.2 L12.6 9 Q13.9 10.3 13.1 11.9 Q12.4 13 10.9 12.8 L9.2 12.5 Q7.6 12.2 6.6 11 L3.1 6.2 Q2.5 4.8 3.2 3.6 Z" stroke="#fff" stroke-width="1.5" fill="none" stroke-linecap="round" stroke-linejoin="round"/><path d="M8.4 6.9 H10 M9.6 8.5 H11.2 M2.6 13.4 H5.2" stroke="#fff" stroke-width="1.5" fill="none" stroke-linecap="round" stroke-linejoin="round"/></svg>
<svg style="left:1132.8px;top:527px" width="16" height="16" viewBox="0 0 16 16"><path d="M9.2 5 A5 5 0 1 1 4 10.6 A4.2 4.2 0 0 0 9.2 5 Z" stroke="#fff" stroke-width="1.5" fill="none" stroke-linecap="round" stroke-linejoin="round"/><path d="M2.6 2.4 H5.8 L2.6 5.8 H5.8" stroke="#fff" stroke-width="1.6" fill="none" stroke-linejoin="round" stroke-linecap="round"/></svg>
<svg style="left:1357.6px;top:527px" width="16" height="16" viewBox="0 0 16 16"><rect x="2.8" y="5.5" width="10.4" height="5" rx="2.5" transform="rotate(-45 8 8)" stroke="#fff" stroke-width="1.5" fill="none" stroke-linecap="round" stroke-linejoin="round"/><path d="M7 7l2 2" stroke="#fff" stroke-width="1.5" fill="none" stroke-linecap="round" stroke-linejoin="round"/></svg>
<div class="abs" style="left:1575.6px;top:401.9px;width:30.40000000000009px;height:95.90000000000003px;background:#062f4d;border-radius:6px"></div>
<div class="t" style="left:1548px;top:442px;width:82px;text-align:center;font-size:12.5px;line-height:14px;color:#fff;font-weight:bold;transform:rotate(-90deg);letter-spacing:0.2px">Help Centre</div>
<div class="t" id="t80" style="left:432.60px;top:619.41px;font-size:17px;line-height:17px;color:#10203a;font-weight:bold;transform:scaleX(1.0248);transform-origin:0 0;">Care Notes from the Last 24 Hours</div>
<div class="abs" style="left:1255.8px;top:607.8px;width:176.79999999999995px;height:32.200000000000045px;background:#ffe0f4"></div>
<div class="abs" style="left:1440.5px;top:607.8px;width:144.0999999999999px;height:32.200000000000045px;background:#cdfcf7"></div>
<div class="abs" style="left:1258px;top:614.1px;width:176.0999999999999px;height:26.600000000000023px;background:linear-gradient(90deg,#b4405e 0%,#cf3058 8%,#cf3058 14%,#a94862 16%,#a84a62 100%);border-radius:14px"></div>
<svg style="left:1270px;top:620px" width="14" height="14" viewBox="0 0 14 14"><path d="M6 3.5 Q6.6 7 10 7.6 Q6.6 8.2 6 12 Q5.4 8.2 2 7.6 Q5.4 7 6 3.5z" fill="#ffe6ef"/><path d="M10.5 1 Q10.8 2.6 12.3 2.9 Q10.8 3.2 10.5 4.8 Q10.2 3.2 8.7 2.9 Q10.2 2.6 10.5 1z" fill="#ffe6ef"/></svg>
<div class="t" id="t81" style="left:1290.00px;top:622.07px;font-size:13.5px;line-height:13.5px;color:#ffdcec;font-weight:bold;transform:scaleX(0.9751);transform-origin:0 0;">Analyse with MargoAI</div>
<div class="abs" style="left:1442.7px;top:614.1px;width:140.79999999999995px;height:26.600000000000023px;background:linear-gradient(90deg,#4c95aa 0%,#3d9dab 45%,#24aea9 100%);border-radius:14px"></div>
<div class="t" id="t82" style="left:1451.00px;top:622.07px;font-size:13.5px;line-height:13.5px;color:#b8fff3;font-weight:bold;transform:scaleX(0.9833);transform-origin:0 0;">View Care Notes</div>
<svg style="left:1557px;top:623px" width="12" height="9" viewBox="0 0 12 9"><path d="M1.5 1.8 L6 6.3 L10.5 1.8" stroke="#b8fff3" stroke-width="1.8" fill="none" stroke-linecap="round" stroke-linejoin="round"/></svg>
<div class="abs" style="left:412.8px;top:654.8px;width:1165.2px;height:141.70000000000005px;background:#fff;border-radius:8px"></div>
<div class="t" id="t83" style="left:432.60px;top:667.87px;font-size:13.5px;line-height:13.5px;color:#7b3a1f;-webkit-text-stroke-width:0.42px;transform:scaleX(1.0947);transform-origin:0 0;">General Note</div>
<svg style="left:525px;top:666px" width="14" height="17" viewBox="0 0 14 17"><path d="M2 1.5 V16" stroke="#8a4524" stroke-width="2.2"/><path d="M3 2 H12 L9.5 5.5 L12 9 H3z" fill="#8a4524"/></svg>
<div class="t" id="t84" style="left:432.60px;top:694.77px;font-size:13.5px;line-height:13.5px;color:#6d8aa8;transform:scaleX(1.0079);transform-origin:0 0;">Entered by P Parker (Care Manager) 18-06-2025 11:15</div>
<div class="t" id="t85" style="left:432.60px;top:719.00px;font-size:13px;line-height:13px;color:#1f2243;transform:scaleX(1.0624);transform-origin:0 0;">Professional Contact Recorded: Emma from the OT&#x27;s (Other), In the Home</div>
<div class="t" id="t86" style="left:432.60px;top:737.90px;font-size:13px;line-height:13px;color:#1f2243;transform:scaleX(1.0340);transform-origin:0 0;">Reason For Contact: Emma...</div>
<div class="t" id="t87" style="left:432.60px;top:762.10px;font-size:13px;line-height:13px;color:#8c8d9a;transform:scaleX(1.0070);transform-origin:0 0;">Event Date:18-06-2025 11:03</div>
<div class="abs" style="left:1447px;top:752px;width:115px;height:45px;background:#dafdfb"></div>
<div class="abs" style="left:1443.6px;top:759.5px;width:120.70000000000005px;height:27.399999999999977px;background:linear-gradient(#5799ae 0%,#5799ae 30%,#22b6a9 31%,#22b6a9 84%,#5b92a8 86%);border-radius:7px;box-shadow:inset 0 0 0 1.5px #5b92a8"></div>
<svg style="left:1459px;top:766px" width="16" height="14" viewBox="0 0 16 14"><path d="M1.5 7 Q8 0.5 14.5 7 Q8 13.5 1.5 7z" stroke="#cffff5" stroke-width="1.5" fill="none"/><circle cx="8" cy="7" r="2" stroke="#cffff5" stroke-width="1.5" fill="none"/></svg>
<div class="t" id="t88" style="left:1481.00px;top:768.00px;font-size:13px;line-height:13px;color:#cffff5;font-weight:bold;transform:scaleX(1.0200);transform-origin:0 0;">Read More</div>
<div class="abs" style="left:412.8px;top:806px;width:1165.2px;height:194px;background:#fff;border-radius:8px"></div>
<div class="t" id="t89" style="left:432.60px;top:819.07px;font-size:13.5px;line-height:13.5px;color:#1d2340;-webkit-text-stroke-width:0.42px;transform:scaleX(1.0997);transform-origin:0 0;">General Note</div>
<div class="t" id="t90" style="left:432.60px;top:846.07px;font-size:13.5px;line-height:13.5px;color:#6d9aa6;transform:scaleX(1.0328);transform-origin:0 0;">Entered by J Atlas (Managing Partner) 24-06-2025 11:16</div>
<div class="t" id="t91" style="left:432.60px;top:870.25px;font-size:13px;line-height:13px;color:#1f2243;transform:scaleX(1.0736);transform-origin:0 0;">Waterlow Score of 9 has been recorded.</div>
<div class="t" id="t92" style="left:432.60px;top:894.00px;font-size:13px;line-height:13px;color:#8c8d9a;transform:scaleX(1.0070);transform-origin:0 0;">Event Date:24-06-2025 11:16</div>
<div class="abs" style="left:1447px;top:880px;width:115px;height:20px;background:#dafdfb"></div>
<div class="abs" style="left:1443.6px;top:891.8px;width:120.70000000000005px;height:28.200000000000045px;background:#22b6a9;border-radius:7px;box-shadow:inset 0 0 0 2px #5b92a8"></div>
<div class="gh" style="left:0px;top:31px;width:800px;height:14.299999999999997px;background:#e8fefe"></div>
<div class="gh" style="left:0px;top:47.7px;width:800px;height:13.599999999999994px;background:#effefe"></div>
<div class="gh" style="left:0px;top:45.3px;width:800px;height:2.4000000000000057px;background:#ffc6ec"></div>
<div class="gh" style="left:0px;top:61.3px;width:800px;height:2.5px;background:#ffc6ec"></div>
<div class="gh" style="left:575px;top:48px;width:215px;height:12px;background:#d4faf8;opacity:0.8"></div>
<div class="gh" style="left:151.7px;top:576.3px;width:152.2px;height:8.200000000000045px;background:#8ffcf2;border-radius:5px 5px 0 0;mix-blend-mode:normal"></div>
<div class="gh" style="left:151.7px;top:584.5px;width:152.2px;height:7.2000000000000455px;background:#ffc9ee;border-radius:0 0 5px 5px;mix-blend-mode:normal"></div>
<div class="gh" style="left:326px;top:573px;width:94px;height:3.5px;background:#8ffcf2;opacity:0.9"></div>
<div class="gh" style="left:328px;top:560.6px;width:92px;height:11.899999999999977px;background:#ffc9ee;opacity:0.35;mix-blend-mode:normal"></div>
<div class="gh" style="left:600px;top:527.8px;width:128px;height:10.200000000000045px;background:#ffc9ee;opacity:0.35"></div>
<div class="gh" style="left:601.6px;top:538px;width:123.39999999999998px;height:5.399999999999977px;background:#8ffcf2;border-radius:3px"></div>
<div class="gh" style="left:420px;top:573px;width:344px;height:3.2999999999999545px;background:#8ffcf2;opacity:0.9"></div>
<div class="gh" style="left:420px;top:560.6px;width:339px;height:11.899999999999977px;background:#ffc9ee;opacity:0.3;mix-blend-mode:normal"></div>
<div class="gh" style="left:326.5px;top:624px;width:437.5px;height:5.399999999999977px;background:#8ffcf2;opacity:0.9"></div>
<div class="gh" style="left:328px;top:629.4px;width:432px;height:10.600000000000023px;background:#ffc9ee;opacity:0.55;mix-blend-mode:normal"></div>
<div class="gh" style="left:425px;top:287.8px;width:375px;height:3.0px;background:#8ffcf2;opacity:0.55"></div>
<div class="gh" style="left:425px;top:290.8px;width:375px;height:10.699999999999989px;background:#ffc9ee;opacity:0.22"></div>
<div class="gh" style="left:400px;top:302.8px;width:400px;height:3.6999999999999886px;background:#8ffcf2;opacity:0.3"></div>
<div class="gh" style="left:390.8px;top:560px;width:1.1999999999999886px;height:320px;background:#48c4bc;mix-blend-mode:normal;opacity:0.8"></div>
<div class="gh" style="left:25px;top:148px;width:66px;height:12px;background:#e2fcfc"></div>
<div class="t" style="left:151px;top:94.5px;font-size:12.5px;line-height:13px;color:#0f3d60;transform:scaleX(1.08);transform-origin:0 0;z-index:1">Mrs Alice Lauks</div>
<div class="t" style="left:285px;top:94.5px;font-size:12.5px;line-height:13px;color:#0f3d60;transform:scaleX(1.1);transform-origin:0 0;z-index:1">Active</div>
<div class="abs" style="left:271px;top:99px;width:6px;height:6px;border-radius:50%;background:#0f4a50"></div>
<div class="t" style="left:151px;top:128px;font-size:12.5px;line-height:13px;color:#0f3d60;transform:scaleX(1.07);transform-origin:0 0;z-index:1">First Floor 1 - Slot A Site - Primary</div>
<svg style="left:50px;top:96px;overflow:hidden" width="60" height="51" viewBox="0 0 60 51"><circle cx="29.5" cy="24" r="25" stroke="#0d6650" stroke-width="1.6" fill="none" stroke-dasharray="34 5"/></svg>
<div class="t" style="left:235px;top:148px;font-size:12.5px;line-height:13px;color:#e6f8fa;transform:scaleX(1.03);transform-origin:0 0;z-index:1">DOA: 04-11-2012</div>
<svg style="left:38px;top:477px;z-index:2" width="104" height="182" viewBox="0 0 104 182"><ellipse cx="52" cy="91" rx="49" ry="87" stroke="#86f7ee" stroke-width="2.6" fill="none" stroke-dasharray="45 30 60 25 50 40" opacity="0.85"/></svg>
</body></html>
